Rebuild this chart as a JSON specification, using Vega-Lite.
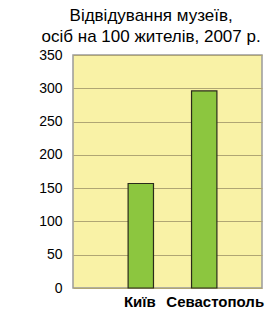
{
  "$schema": "https://vega.github.io/schema/vega-lite/v6.json",
  "width": 189,
  "height": 233,
  "autosize": {"type": "none"},
  "padding": {"left": 73, "top": 55, "right": 11, "bottom": 25},
  "background": "white",
  "title": {
    "text": ["Відвідування музеїв,", "осіб на 100 жителів, 2007 р."],
    "font": "Liberation Sans",
    "fontSize": 17,
    "fontWeight": "normal",
    "color": "#000",
    "lineHeight": 21,
    "anchor": "middle",
    "frame": "bounds",
    "offset": 2
  },
  "data": {
    "values": [
      {"city": "Київ", "value": 157},
      {"city": "Севастополь", "value": 296}
    ]
  },
  "mark": {"type": "bar", "fill": "#8cc63f", "stroke": "#2a2a1a", "strokeWidth": 1.2},
  "encoding": {
    "x": {
      "field": "city",
      "type": "nominal",
      "sort": null,
      "scale": {"paddingInner": 0.6, "paddingOuter": 0.79, "align": 0.55},
      "axis": {
        "title": null,
        "labelAngle": 0,
        "labelFont": "Liberation Sans",
        "labelFontSize": 15,
        "labelFontWeight": "bold",
        "labelColor": "#000",
        "labelOffset": {"condition": {"test": "datum.value == 'Севастополь'", "value": 11}, "value": -1},
        "ticks": false,
        "domain": false,
        "labelPadding": 6,
        "grid": false
      }
    },
    "y": {
      "field": "value",
      "type": "quantitative",
      "scale": {"domain": [0, 350], "nice": false},
      "axis": {
        "title": null,
        "values": [0, 50, 100, 150, 200, 250, 300, 350],
        "labelFont": "Liberation Sans",
        "labelFontSize": 14,
        "labelColor": "#000",
        "ticks": false,
        "domain": false,
        "labelPadding": 11,
        "gridColor": "#b0a674",
        "gridWidth": 1,
        "gridOpacity": 1
      }
    }
  },
  "config": {
    "view": {"fill": "#f9f2a6", "stroke": "#9a9a9a", "strokeWidth": 1.5}
  }
}
